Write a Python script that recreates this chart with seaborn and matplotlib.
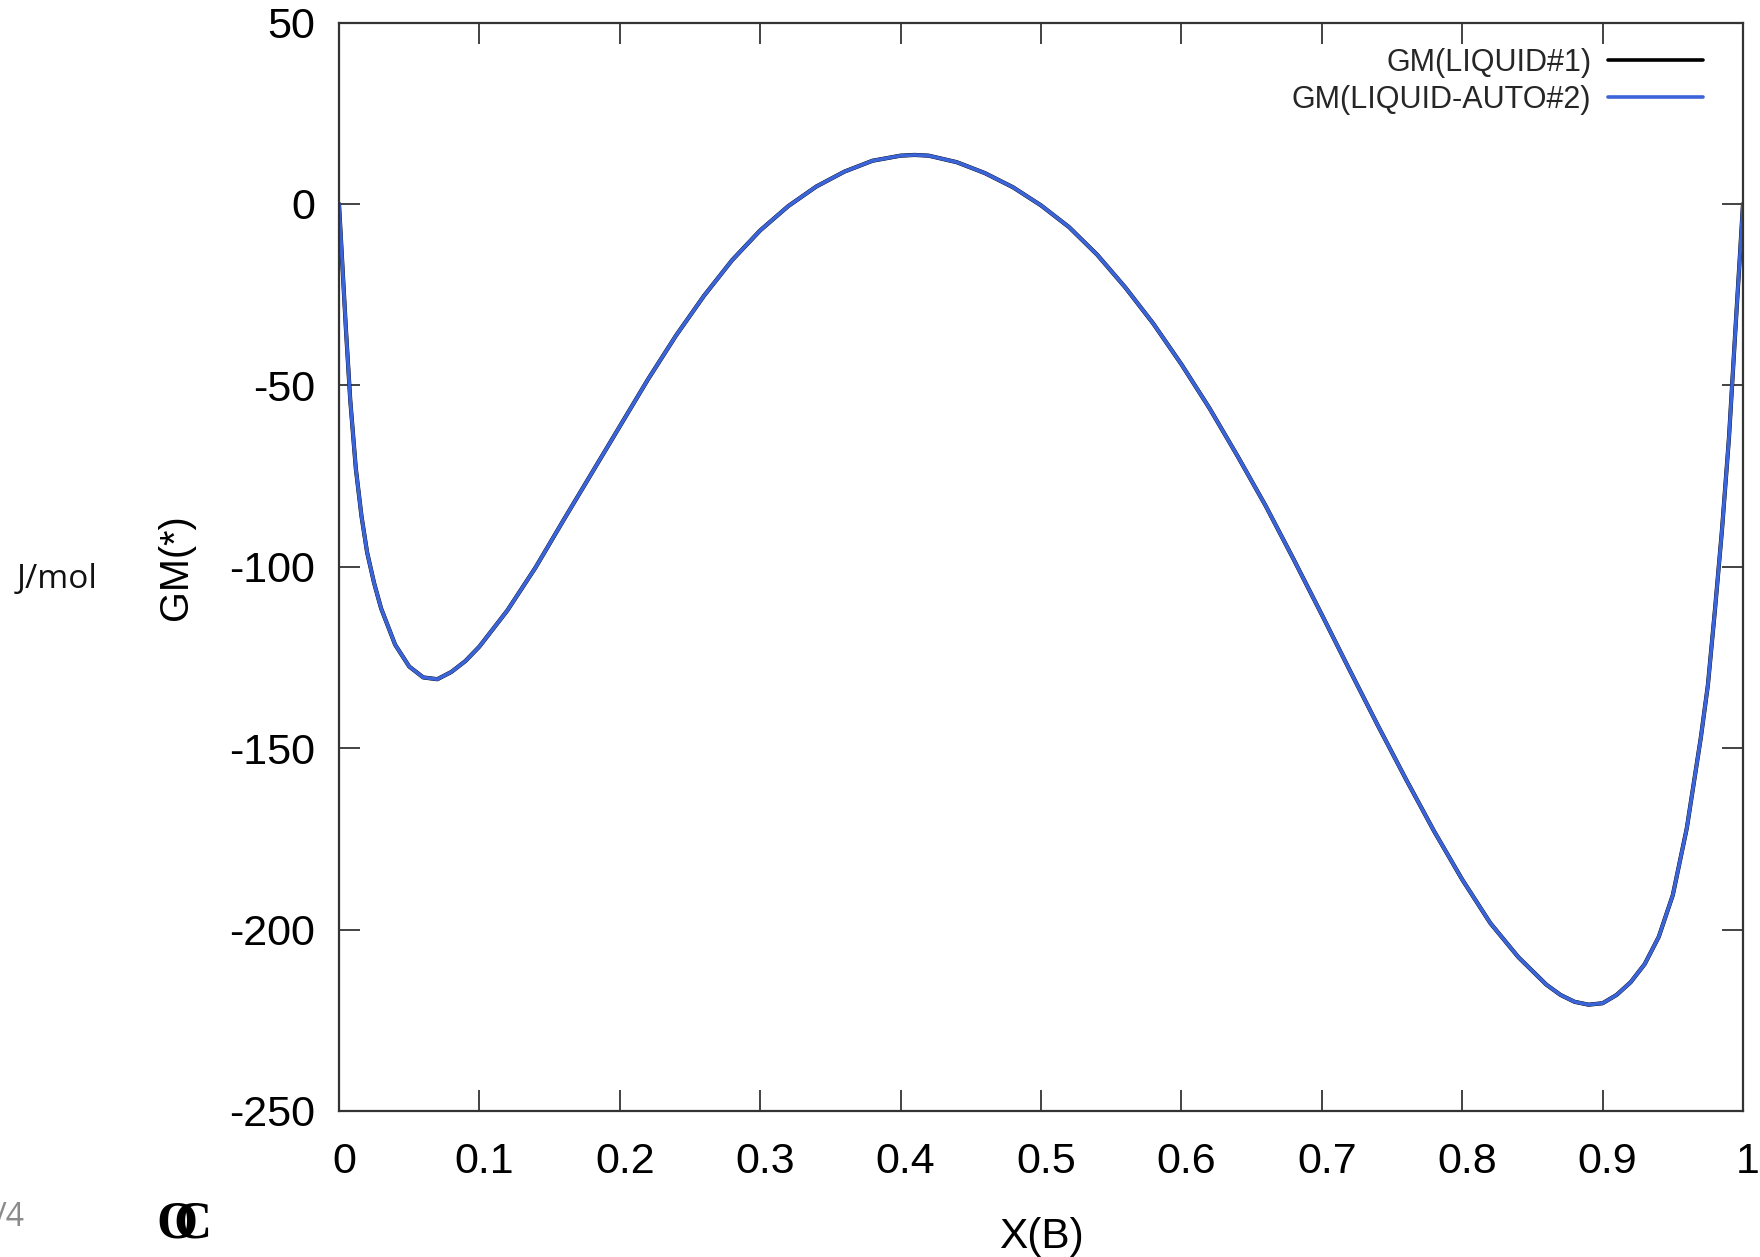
import numpy as np
import pandas as pd
import matplotlib
matplotlib.use("Agg")
import matplotlib.pyplot as plt
import matplotlib.transforms as mtransforms
import seaborn as sns

# ---- data ----
x_b = [0.0, 0.002, 0.005, 0.008, 0.012, 0.016, 0.02, 0.025, 0.03, 0.04, 0.05,
       0.06, 0.07, 0.08, 0.09, 0.10, 0.12, 0.14, 0.16, 0.18, 0.20, 0.22, 0.24,
       0.26, 0.28, 0.30, 0.32, 0.34, 0.36, 0.38, 0.40, 0.41, 0.42, 0.44, 0.46,
       0.48, 0.50, 0.52, 0.54, 0.56, 0.58, 0.60, 0.62, 0.64, 0.66, 0.68, 0.70,
       0.72, 0.74, 0.76, 0.78, 0.80, 0.82, 0.84, 0.86, 0.87, 0.88, 0.89, 0.90,
       0.91, 0.92, 0.93, 0.94, 0.95, 0.96, 0.97, 0.975, 0.98, 0.985, 0.99,
       0.995, 0.998, 1.0]
gm_liquid1 = [0.0, -14, -35, -54, -73, -86, -96, -104.5, -111.5, -121.5, -127.5,
              -130.5, -131, -129, -126, -122, -112, -100.2, -87.1, -74.2, -61.3,
              -48.4, -36.3, -25.3, -15.5, -7.3, -0.6, 4.8, 8.9, 11.9, 13.3, 13.5,
              13.3, 11.5, 8.5, 4.6, -0.4, -6.4, -14.0, -23.0, -33.0, -44.2, -56.3,
              -69.5, -83.2, -98.0, -113.2, -128.6, -143.8, -158.6, -172.9, -186.2,
              -198.2, -207.6, -215.2, -218.0, -219.9, -220.7, -220.3, -218.0,
              -214.5, -209.5, -202.0, -190.5, -172.0, -147.0, -132.6, -112.0,
              -90.0, -64.5, -32.0, -13.0, 0.0]
gm_liquid_auto2 = list(gm_liquid1)

series_names = ["GM(LIQUID#1)", "GM(LIQUID-AUTO#2)"]
series_colors = ["#000000", "#3b64d8"]
x_ticks = [0, 0.1, 0.2, 0.3, 0.4, 0.5, 0.6, 0.7, 0.8, 0.9, 1]
x_tick_labels = ["0", "0.1", "0.2", "0.3", "0.4", "0.5", "0.6", "0.7", "0.8", "0.9", "1"]
y_ticks = [-250, -200, -150, -100, -50, 0, 50]
y_tick_labels = ["-250", "-200", "-150", "-100", "-50", "0", "50"]

df = pd.DataFrame({
    "X(B)": x_b * 2,
    "GM": gm_liquid1 + gm_liquid_auto2,
    "phase": [series_names[0]] * len(x_b) + [series_names[1]] * len(x_b),
})

sns.set_theme(style="ticks")
plt.rcParams["font.family"] = ["Liberation Sans", "DejaVu Sans"]

W, H = 1760, 1257
fig = plt.figure(figsize=(W / 100, H / 100), dpi=100)
ax = fig.add_axes([339 / W, 1 - 1111 / H, (1743 - 339) / W, (1111 - 22.5) / H])

sns.lineplot(data=df, x="X(B)", y="GM", hue="phase", hue_order=series_names,
             palette=series_colors, ax=ax, sort=False, estimator=None, linewidth=2.6)
for line, lw in zip(ax.get_lines(), [3.0, 2.6]):
    line.set_linewidth(lw)
    line.set_solid_joinstyle("round")

ax.set_xlim(0, 1)
ax.set_ylim(-250, 50)
ax.set_xticks(x_ticks)
ax.set_xticklabels(x_tick_labels)
ax.set_yticks(y_ticks)
ax.set_yticklabels(y_tick_labels)
ax.tick_params(direction="in", top=True, right=True, length=15, width=1.2,
               color="#222222", labelsize=31, labelcolor="black")
ax.tick_params(axis="x", pad=22)
ax.tick_params(axis="y", pad=17)
offset = mtransforms.ScaledTranslation(0.05, 0, fig.dpi_scale_trans)
for lab in ax.get_xticklabels():
    lab.set_transform(lab.get_transform() + offset)

for sp in ax.spines.values():
    sp.set_visible(True)
    sp.set_linewidth(1.6)
    sp.set_color("#333333")

ax.set_xlabel("X(B)", fontsize=30.5, color="black")
ax.set_ylabel("GM(*)", fontsize=28.5, color="black")
ax.xaxis.set_label_coords(0.5, (1111 - 1237) / (1111 - 22.5))
ax.xaxis.label.set_va("center")
ax.yaxis.set_label_coords((176 - 339) / (1743 - 339), 0.5)
ax.yaxis.label.set_va("center")

leg = ax.legend(loc="upper right", bbox_to_anchor=(1703 / W, 1 - 48 / H),
                bbox_transform=fig.transFigure, frameon=False, fontsize=22,
                markerfirst=False, handlelength=3.1, handletextpad=0.55,
                labelspacing=0.23, borderpad=0, borderaxespad=0, title=None)

# extra annotations from the slide
fig.text(17 / W, 1 - 579 / H, "J/mol", fontsize=24, family=["Open Sans", "DejaVu Sans"],
         ha="left", va="center", color="#111111")
fig.text(25 / W, 1 - 1217 / H, "/4", fontsize=23, family=["Open Sans", "DejaVu Sans"],
         ha="right", va="center", color="#8a8a8a")
fig.text(156 / W, 1 - 1225 / H, "O", fontsize=38, family=["Liberation Serif", "DejaVu Serif"],
         weight="bold", ha="left", va="center", color="black")
fig.text(173 / W, 1 - 1225 / H, "C", fontsize=38, family=["Liberation Serif", "DejaVu Serif"],
         weight="bold", ha="left", va="center", color="black")

fig.savefig("out.png", dpi=100, facecolor="white")
